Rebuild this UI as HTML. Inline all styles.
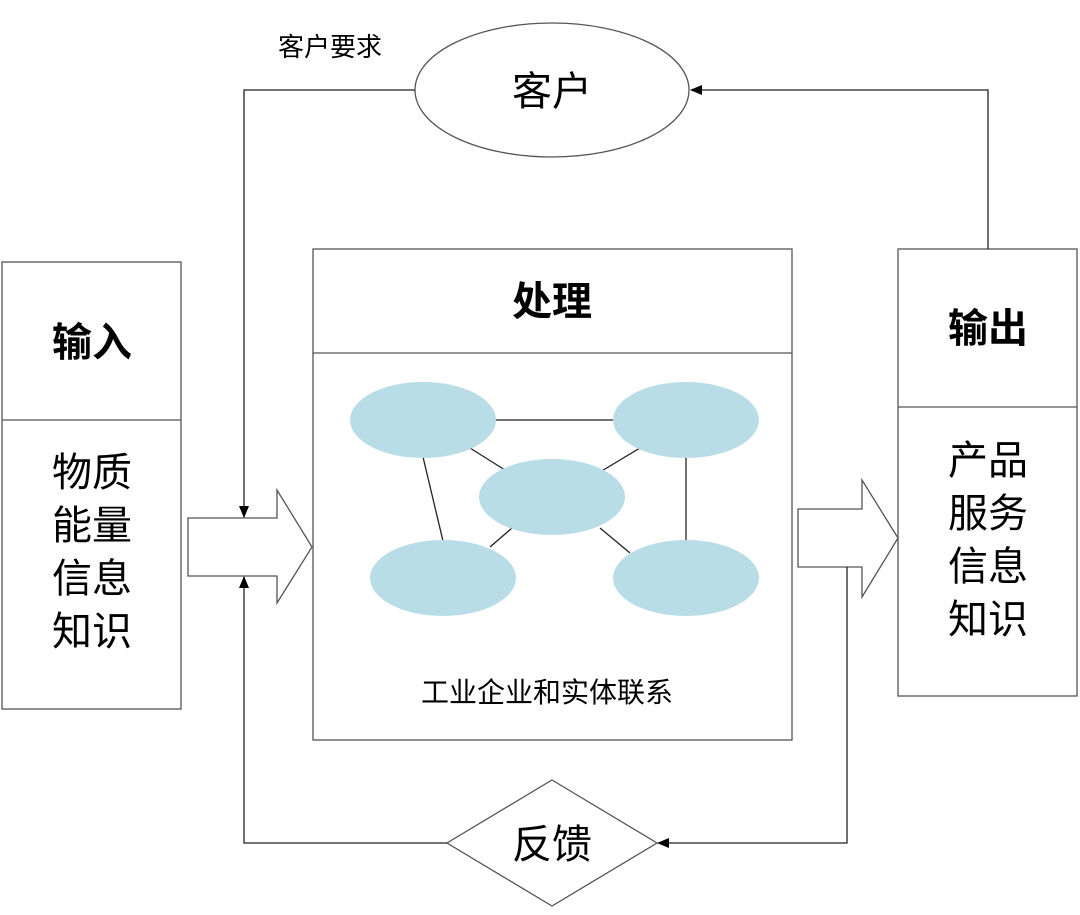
<!DOCTYPE html>
<html><head><meta charset="utf-8"><style>
body{margin:0;background:#fff;}
svg text{font-family:"Liberation Sans","Noto Sans CJK SC",sans-serif;}
</style></head><body>
<svg width="1080" height="910" viewBox="0 0 1080 910" xmlns="http://www.w3.org/2000/svg">
<defs><marker id="a" markerWidth="12" markerHeight="10" refX="11" refY="5" orient="auto" markerUnits="userSpaceOnUse"><path d="M0,0 L12,5 L0,10 z" fill="#000"/></marker></defs>
<g fill="#fff" stroke="#555" stroke-width="1.3">
<rect x="2" y="262" width="179" height="447"/><line x1="2" y1="420" x2="181" y2="420"/>
<rect x="313" y="249" width="479" height="491"/><line x1="313" y1="353" x2="792" y2="353"/>
<rect x="898" y="249" width="179" height="447"/><line x1="898" y1="407" x2="1077" y2="407"/>
<ellipse cx="552" cy="90" rx="137" ry="67"/>
<polygon points="552,780 657,843 552,906 447,843"/>
<polygon points="188,518 277,518 277,490 312,547 277,603 277,576 188,576"/>
<polygon points="798,509 862,509 862,480 898,538 862,597 862,567 798,567"/>
</g>
<g stroke="#222" stroke-width="1.3" fill="none">
<polyline points="415,90 244,90 244,517" marker-end="url(#a)"/>
<polyline points="988,249 988,90 691,90" marker-end="url(#a)"/>
<polyline points="847,567 847,843 658,843" marker-end="url(#a)"/>
<polyline points="447,843 244,843 244,577" marker-end="url(#a)"/>
<line x1="495" y1="420" x2="614" y2="420"/>
<line x1="686" y1="456" x2="686" y2="541"/>
<line x1="423" y1="457" x2="443" y2="541"/>
<line x1="470" y1="448" x2="505" y2="470"/>
<line x1="640" y1="448" x2="600" y2="472"/>
<line x1="490" y1="547" x2="512" y2="528"/>
<line x1="600" y1="528" x2="630" y2="553"/>
</g>
<g fill="#b8dde6">
<ellipse cx="423" cy="420" rx="73" ry="38"/>
<ellipse cx="686" cy="420" rx="73" ry="38"/>
<ellipse cx="552" cy="497" rx="73" ry="38"/>
<ellipse cx="443" cy="578" rx="73" ry="38"/>
<ellipse cx="686" cy="578" rx="73" ry="38"/>
</g>
<g fill="#000" text-anchor="middle">
<text x="330" y="56" font-size="26">客户要求</text>
<text x="552" y="105" font-size="40">客户</text>
<text x="552" y="858" font-size="40">反馈</text>
<text x="92" y="356" font-size="40" font-weight="bold">输入</text>
<text x="552" y="315" font-size="40" font-weight="bold">处理</text>
<text x="988" y="342" font-size="40" font-weight="bold">输出</text>
<text x="92" y="486" font-size="40">物质</text>
<text x="92" y="539" font-size="40">能量</text>
<text x="92" y="592" font-size="40">信息</text>
<text x="92" y="645" font-size="40">知识</text>
<text x="988" y="474" font-size="40">产品</text>
<text x="988" y="527" font-size="40">服务</text>
<text x="988" y="580" font-size="40">信息</text>
<text x="988" y="633" font-size="40">知识</text>
<text x="547" y="702" font-size="28">工业企业和实体联系</text>
</g>
</svg>
</body></html>
